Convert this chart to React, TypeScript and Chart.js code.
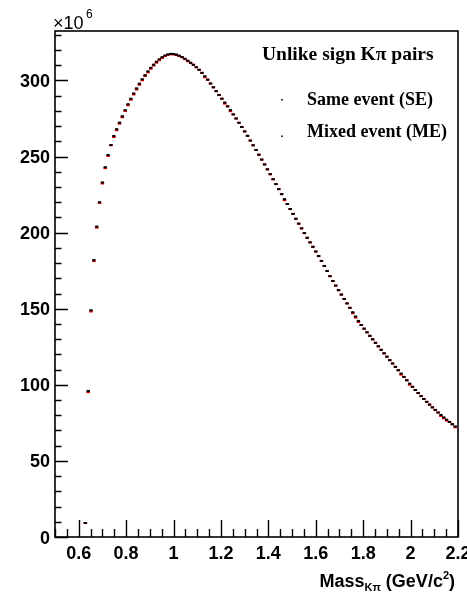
import { useEffect, useRef } from 'react';
import { Chart, registerables } from 'chart.js';

Chart.register(...registerables);

// Bin centres of the K-pi invariant mass histogram (GeV/c^2)
const massBins = [
  0.628, 0.640, 0.652, 0.664, 0.676, 0.688, 0.700, 0.712, 0.724, 0.736,
  0.748, 0.760, 0.772, 0.784, 0.796, 0.808, 0.820, 0.832, 0.844, 0.856,
  0.868, 0.880, 0.892, 0.904, 0.916, 0.928, 0.940, 0.952, 0.964, 0.976,
  0.988, 1.000, 1.012, 1.024, 1.036, 1.048, 1.060, 1.072, 1.084, 1.096,
  1.108, 1.120, 1.132, 1.144, 1.156, 1.168, 1.180, 1.192, 1.204, 1.216,
  1.228, 1.240, 1.252, 1.264, 1.276, 1.288, 1.300, 1.312, 1.324, 1.336,
  1.348, 1.360, 1.372, 1.384, 1.396, 1.408, 1.420, 1.432, 1.444, 1.456,
  1.468, 1.480, 1.492, 1.504, 1.516, 1.528, 1.540, 1.552, 1.564, 1.576,
  1.588, 1.600, 1.612, 1.624, 1.636, 1.648, 1.660, 1.672, 1.684, 1.696,
  1.708, 1.720, 1.732, 1.744, 1.756, 1.768, 1.780, 1.792, 1.804, 1.816,
  1.828, 1.840, 1.852, 1.864, 1.876, 1.888, 1.900, 1.912, 1.924, 1.936,
  1.948, 1.960, 1.972, 1.984, 1.996, 2.008, 2.020, 2.032, 2.044, 2.056,
  2.068, 2.080, 2.092, 2.104, 2.116, 2.128, 2.140, 2.152, 2.164, 2.176,
  2.188,
];

// Same-event pair counts per bin (x10^6)
const seCounts = [
  9.2, 96.0, 149.0, 182.0, 204.0, 220.0, 233.0, 243.0, 251.0, 257.5,
  263.5, 268.0, 272.3, 276.5, 280.5, 284.4, 288.0, 291.5, 294.8, 297.9,
  300.8, 303.5, 306.0, 308.3, 310.4, 312.3, 313.9, 315.3, 316.4, 317.1,
  317.5, 317.4, 317.0, 316.3, 315.4, 314.3, 313.0, 311.6, 310.3, 308.7,
  307.0, 305.0, 302.8, 300.5, 298.0, 295.5, 293.0, 290.5, 288.0, 285.5,
  283.0, 280.5, 277.7, 275.0, 272.2, 269.4, 266.5, 263.6, 260.5, 257.4,
  254.3, 251.2, 248.0, 244.8, 241.6, 238.4, 235.1, 231.9, 228.6, 225.3,
  222.0, 218.8, 215.5, 212.3, 209.1, 205.9, 202.8, 199.7, 196.6, 193.6,
  190.7, 187.6, 184.6, 181.4, 178.1, 174.8, 171.4, 168.2, 165.2, 162.2,
  159.3, 156.4, 153.5, 150.6, 147.7, 144.9, 142.0, 139.3, 136.9, 134.5,
  132.2, 129.9, 127.6, 125.3, 123.0, 120.7, 118.5, 116.2, 114.0, 111.8,
  109.6, 107.4, 105.2, 103.0, 100.8, 98.7, 96.6, 94.6, 92.6, 90.7,
  88.8, 87.0, 85.2, 83.5, 81.8, 80.2, 78.6, 77.1, 75.6, 74.1,
  72.7,
];

// Mixed-event pair counts per bin, normalised to the same-event yield (x10^6)
const meCounts = [
  9.2, 95.2, 148.2, 181.3, 203.3, 219.5, 232.3, 242.4, 250.4, 257.5,
  262.8, 267.3, 271.6, 275.8, 279.9, 283.7, 287.3, 290.8, 294.1, 297.2,
  300.1, 302.9, 305.3, 307.7, 309.8, 311.7, 313.3, 314.8, 316.0, 316.8,
  317.2, 317.1, 316.7, 316.0, 315.2, 314.0, 312.7, 311.6, 310.3, 308.7,
  307.0, 305.0, 302.1, 300.5, 298.0, 295.5, 293.0, 290.5, 288.0, 284.8,
  283.0, 279.8, 277.7, 275.0, 272.2, 269.4, 266.5, 263.6, 260.5, 257.4,
  254.3, 251.2, 248.0, 244.8, 241.6, 238.4, 235.1, 231.9, 228.6, 225.3,
  221.3, 218.8, 215.5, 212.3, 209.1, 205.9, 202.8, 199.7, 196.6, 193.6,
  190.7, 187.6, 184.6, 181.4, 178.1, 174.8, 171.4, 168.2, 165.2, 162.2,
  159.3, 156.4, 153.5, 150.6, 147.0, 144.2, 141.3, 139.3, 136.9, 134.5,
  132.2, 129.9, 127.6, 125.3, 123.0, 120.7, 118.5, 116.2, 114.0, 111.8,
  109.6, 106.7, 105.2, 103.0, 100.1, 98.7, 96.6, 94.6, 92.6, 90.7,
  88.8, 87.0, 85.2, 83.5, 81.8, 79.5, 78.0, 76.5, 75.6, 74.1,
  72.1,
];

const xTickValues = [0.6, 0.8, 1.0, 1.2, 1.4, 1.6, 1.8, 2.0, 2.2];
const xTickLabels = ['0.6', '0.8', '1', '1.2', '1.4', '1.6', '1.8', '2', '2.2'];
const yTickValues = [0, 50, 100, 150, 200, 250, 300];
const yTickLabels = ['0', '50', '100', '150', '200', '250', '300'];

const legendTitle = 'Unlike sign K\u03c0 pairs';
const seriesLabels = ['Same event (SE)', 'Mixed event (ME)'];

const SANS = '"Liberation Sans", Arial, Helvetica, sans-serif';
const SERIF = '"Liberation Serif", "Times New Roman", serif';

// Draws the ROOT-style frame, inward ticks, labels, axis title and legend.
const rootFramePlugin = {
  id: 'rootFrame',
  afterDraw(chart: any) {
    const { ctx, chartArea: a, scales } = chart;
    const xs = scales.x;
    const ys = scales.y;
    ctx.save();

    // frame
    ctx.strokeStyle = '#000';
    ctx.lineWidth = 1.6;
    ctx.strokeRect(a.left, a.top, a.right - a.left, a.bottom - a.top);

    // x ticks: minor every 0.05, major every 0.2
    ctx.lineWidth = 1.4;
    ctx.beginPath();
    for (let k = 0; k <= 34; k++) {
      const v = 0.5 + 0.05 * k;
      const px = Math.round(xs.getPixelForValue(v)) + 0.5;
      const major = Math.abs(v * 5 - Math.round(v * 5)) < 1e-6;
      ctx.moveTo(px, a.bottom);
      ctx.lineTo(px, a.bottom - (major ? 17 : 8));
    }
    // y ticks: minor every 10, major every 50
    for (let v = 0; v <= 330; v += 10) {
      const py = Math.round(ys.getPixelForValue(v)) + 0.5;
      const major = v % 50 === 0;
      ctx.moveTo(a.left, py);
      ctx.lineTo(a.left + (major ? 13 : 6.5), py);
    }
    ctx.stroke();

    // tick labels
    ctx.fillStyle = '#000';
    ctx.font = `bold 18px ${SANS}`;
    ctx.textBaseline = 'alphabetic';
    ctx.textAlign = 'center';
    xTickValues.forEach((v, i) => {
      ctx.fillText(xTickLabels[i], xs.getPixelForValue(v), a.bottom + 22);
    });
    ctx.textAlign = 'right';
    yTickValues.forEach((v, i) => {
      ctx.fillText(yTickLabels[i], a.left - 5, ys.getPixelForValue(v) + 6.5);
    });

    // exponent above the y axis
    ctx.textAlign = 'left';
    ctx.font = `18px ${SANS}`;
    ctx.fillText('\u00d710', 53, 29);
    ctx.font = `12px ${SANS}`;
    ctx.fillText('6', 86, 18);

    // x-axis title with sub/superscripts, right aligned
    const parts: [string, number, number][] = [
      ['Mass', 18, 0],
      ['K\u03c0', 11, 4],
      [' (GeV/c', 18, 0],
      ['2', 11, -8],
      [')', 18, 0],
    ];
    let total = 0;
    const widths = parts.map(([t, s]) => {
      ctx.font = `bold ${s}px ${SANS}`;
      const w = ctx.measureText(t).width;
      total += w;
      return w;
    });
    let tx = a.right - 3 - total;
    parts.forEach(([t, s, dy], i) => {
      ctx.font = `bold ${s}px ${SANS}`;
      ctx.fillText(t, tx, 587 + dy);
      tx += widths[i];
    });

    // legend
    ctx.font = `bold 19.5px ${SERIF}`;
    ctx.fillText(legendTitle, 262, 60);
    ctx.font = `bold 18px ${SERIF}`;
    ctx.fillText(seriesLabels[0], 307, 105);
    ctx.fillText(seriesLabels[1], 307, 137);
    ctx.fillStyle = '#333';
    ctx.fillRect(281, 99, 2, 1.5);
    ctx.fillRect(281, 135.5, 2, 1.5);

    ctx.restore();
  },
};

export default function App() {
  const canvasRef = useRef<HTMLCanvasElement | null>(null);

  useEffect(() => {
    document.body.style.margin = '0';
    const canvas = canvasRef.current;
    if (!canvas) return;

    const chart = new Chart(canvas, {
      type: 'scatter',
      data: {
        datasets: [
          {
            label: seriesLabels[0],
            data: massBins.map((m, i) => ({ x: m, y: seCounts[i] })),
            pointStyle: 'line',
            pointRadius: 1.6,
            pointBorderWidth: 2,
            pointBorderColor: '#000',
            pointBackgroundColor: '#000',
            order: 0,
          },
          {
            label: seriesLabels[1],
            data: massBins.map((m, i) => ({ x: m, y: meCounts[i] })),
            pointStyle: 'line',
            pointRadius: 1.8,
            pointBorderWidth: 2,
            pointBorderColor: '#e00000',
            pointBackgroundColor: '#e00000',
            order: 1,
          },
        ],
      },
      options: {
        responsive: false,
        animation: false,
        devicePixelRatio: 1,
        events: [],
        layout: { padding: { left: 55, right: 9, top: 31, bottom: 59 } },
        scales: {
          x: { type: 'linear', min: 0.5, max: 2.2, display: false },
          y: { type: 'linear', min: 0, max: 332.5, display: false },
        },
        plugins: {
          legend: { display: false },
          tooltip: { enabled: false },
        },
      },
      plugins: [rootFramePlugin],
    });

    return () => chart.destroy();
  }, []);

  return (
    <canvas
      ref={canvasRef}
      width={467}
      height={596}
      style={{ display: 'block', width: 467, height: 596 }}
    />
  );
}
